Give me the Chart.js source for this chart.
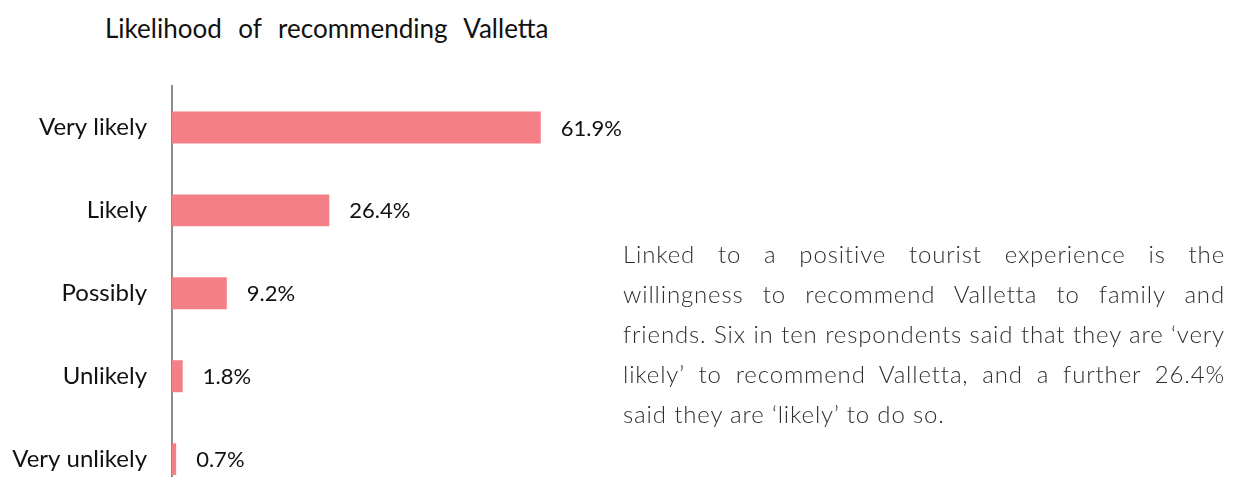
<!DOCTYPE html>
<html>
<head>
<meta charset="utf-8">
<script src="https://cdn.jsdelivr.net/npm/chart.js@4.4.1/dist/chart.umd.min.js"></script>
<style>
  html, body { margin: 0; padding: 0; background: #ffffff; overflow: hidden; }
  body { width: 1237px; height: 477px; position: relative; font-family: Lato, 'Open Sans', sans-serif; }
  #title {
    position: absolute; left: 105px; top: 15px;
    font-size: 26px; line-height: 1; color: #111; word-spacing: 10px; white-space: nowrap;
  }
  /* taller than the window on purpose: the last row runs off the bottom edge */
  #chartBox { position: absolute; left: 0; top: 0; width: 700px; height: 540px; }
  #note {
    position: absolute; left: 623px; top: 234px; width: 602px;
    font-size: 24px; font-weight: 300; letter-spacing: 0.85px; line-height: 40px; color: #2e2e2e;
  }
  #note div { white-space: nowrap; text-align: justify; text-align-last: justify; }
  #note div.last { text-align-last: left; }
</style>
</head>
<body>
<div id="title">Likelihood of recommending Valletta</div>
<div id="chartBox"><canvas id="likelihoodChart"></canvas></div>
<div id="note">
  <div>Linked to a positive tourist experience is the</div>
  <div>willingness to recommend Valletta to family and</div>
  <div>friends. Six in ten respondents said that they are ‘very</div>
  <div>likely’ to recommend Valletta, and a further 26.4%</div>
  <div class="last">said they are ‘likely’ to do so.</div>
</div>
<script>
// Survey answers, top to bottom as drawn
const categories = ['Very likely', 'Likely', 'Possibly', 'Unlikely', 'Very unlikely'];
const shares = [61.9, 26.4, 9.2, 1.8, 0.7];

const BAR_PINK = '#f47f86';
const AXIS_GREY = '#8c8c8c';

// writes "61.9%" etc. just past the end of each bar
const valueLabels = {
  id: 'valueLabels',
  afterDatasetsDraw(chart) {
    const ctx = chart.ctx;
    const meta = chart.getDatasetMeta(0);
    ctx.save();
    ctx.font = '22px Lato, "Open Sans", sans-serif';
    ctx.fillStyle = '#111';
    ctx.textAlign = 'left';
    ctx.textBaseline = 'middle';
    meta.data.forEach(function (bar, i) {
      ctx.fillText(shares[i].toFixed(1) + '%', bar.x + 20, bar.y + 1);
    });
    ctx.restore();
  }
};

new Chart(document.getElementById('likelihoodChart'), {
  type: 'bar',
  data: {
    labels: categories,
    datasets: [{
      data: shares,
      backgroundColor: BAR_PINK,
      borderWidth: 0,
      categoryPercentage: 1,
      barPercentage: 0.385
    }]
  },
  plugins: [valueLabels],
  options: {
    indexAxis: 'y',
    responsive: true,
    maintainAspectRatio: false,
    animation: false,
    layout: { padding: { top: 86, right: 111, bottom: 4, left: 0 } },
    scales: {
      x: {
        display: false,
        min: 0,
        max: 70
      },
      y: {
        afterFit: function (scale) { scale.width = 172; },
        grid: { display: false, drawTicks: false },
        border: { display: true, color: AXIS_GREY, width: 2 },
        ticks: {
          padding: 25,
          color: '#111',
          font: { family: 'Lato, "Open Sans", sans-serif', size: 24 }
        }
      }
    },
    plugins: {
      legend: { display: false },
      tooltip: { enabled: false }
    }
  }
});
</script>
</body>
</html>
